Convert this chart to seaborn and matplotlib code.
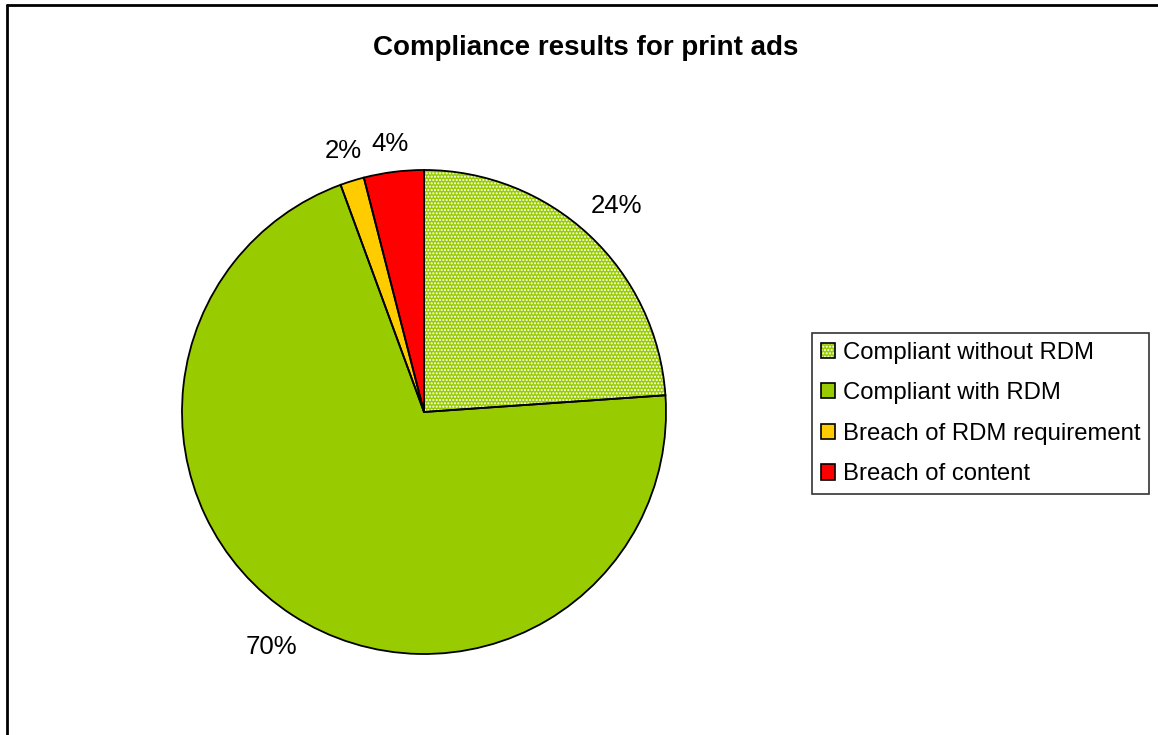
import numpy as np
import pandas as pd
import matplotlib
matplotlib.use('Agg')
import matplotlib.pyplot as plt
import seaborn as sns
from matplotlib.lines import Line2D

# data
categories = ['Compliant without RDM', 'Compliant with RDM',
              'Breach of RDM requirement', 'Breach of content']
shares = [23.9, 70.5, 1.6, 4.0]
colors = ['#99CC00', '#99CC00', '#FFCC00', '#FF0000']
hatches = ['.....', None, None, None]

sns.set_theme(style='white')
plt.rcParams['font.family'] = ['Liberation Sans', 'DejaVu Sans']
plt.rcParams['text.color'] = 'black'
plt.rcParams['hatch.linewidth'] = 1.0

fig = plt.figure(figsize=(11.58, 7.35), dpi=100)
W, H = 1158, 735
cx, cy, r = 424, 412, 242
ax = fig.add_axes([(cx - r) / W, (H - cy - r) / H, 2 * r / W, 2 * r / H])

# fill + hatch layer
wedges, _, autotexts = ax.pie(shares, colors=colors, startangle=90, counterclock=False,
                              hatch=hatches, autopct='%.0f%%', pctdistance=1.15,
                              wedgeprops=dict(edgecolor='white', linewidth=0),
                              textprops=dict(fontsize=18.5, color='black'))
# outline layer
ax.pie(shares, startangle=90, counterclock=False,
       wedgeprops=dict(fill=False, edgecolor='black', linewidth=1.3))
ax.set_xlim(-1, 1)
ax.set_ylim(-1, 1)
ax.set_aspect('equal')
ax.axis('off')

# push each label out so its box sits a fixed gap outside the rim
fig.canvas.draw()
renderer = fig.canvas.get_renderer()
gap = 14
for w, t in zip(wedges, autotexts):
    theta = np.deg2rad((w.theta1 + w.theta2) / 2)
    bb = t.get_window_extent(renderer)
    half = abs(np.cos(theta)) * bb.width / 2 + abs(np.sin(theta)) * bb.height / 2
    d = (r + gap + half) / r
    t.set_position((d * np.cos(theta), d * np.sin(theta)))

fig.text(586 / W, 1 - 48 / H, 'Compliance results for print ads',
         ha='center', va='center', fontsize=20, fontweight='bold', color='black')

handles = []
for c, h in zip(colors, hatches):
    fill = plt.Rectangle((0, 0), 1, 1, facecolor=c, edgecolor='white', linewidth=0, hatch=h)
    edge = plt.Rectangle((0, 0), 1, 1, fill=False, edgecolor='black', linewidth=1.2)
    handles.append((fill, edge))
leg = fig.legend(handles, categories, loc='upper left',
                 bbox_to_anchor=(812 / W, 1 - 333 / H), bbox_transform=fig.transFigure,
                 borderaxespad=0, fancybox=False, frameon=True, edgecolor='black',
                 fontsize=17.2, labelcolor='black', handlelength=0.6, handleheight=0.6,
                 handletextpad=0.35, labelspacing=0.78, borderpad=0.36)
leg.get_frame().set_linewidth(1.2)

# outer chart frame (top and left edges visible)
fig.add_artist(Line2D([7 / W, 7 / W], [0, 1 - 5 / H], color='black', linewidth=2,
                      transform=fig.transFigure))
fig.add_artist(Line2D([7 / W, 1], [1 - 5 / H, 1 - 5 / H], color='black', linewidth=2,
                      transform=fig.transFigure))

fig.savefig('out.png', dpi=100, facecolor='white')
